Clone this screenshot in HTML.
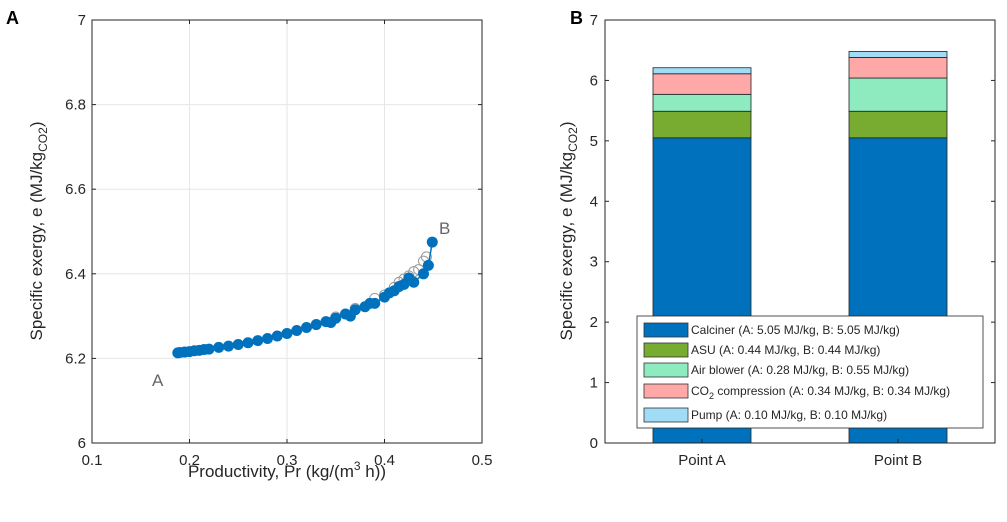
<!DOCTYPE html>
<html><head><meta charset="utf-8"><style>
body{margin:0;background:#fff;font-family:"Liberation Sans",sans-serif}
svg text{font-family:"Liberation Sans",sans-serif}
</style></head><body>
<svg id="s" width="1007" height="517" viewBox="0 0 1007 517" xmlns="http://www.w3.org/2000/svg">
<text x="6" y="24" font-size="18" font-weight="bold">A</text>
<text x="570" y="24" font-size="18" font-weight="bold">B</text>
<g id="left"></g>
<g id="right"></g>
</svg>
<script>
const scatterX=[0.188,0.19,0.195,0.2,0.205,0.21,0.215,0.22,0.23,0.24,0.25,0.26,0.27,0.28,0.29,0.3,0.31,0.32,0.33,0.34,0.345,0.35,0.36,0.365,0.37,0.38,0.385,0.39,0.4,0.405,0.41,0.415,0.42,0.425,0.43,0.44,0.445,0.449];
const scatterY=[6.213,6.214,6.215,6.216,6.218,6.219,6.221,6.222,6.226,6.229,6.233,6.237,6.242,6.247,6.253,6.259,6.266,6.273,6.28,6.287,6.285,6.295,6.305,6.3,6.315,6.322,6.33,6.33,6.345,6.355,6.36,6.37,6.375,6.39,6.38,6.4,6.42,6.475];
const grayX=[0.35,0.37,0.39,0.4,0.41,0.415,0.42,0.425,0.43,0.435,0.44,0.443];
const grayY=[6.298,6.318,6.342,6.35,6.368,6.38,6.388,6.395,6.405,6.41,6.43,6.44];
const xTicks=[0.1,0.2,0.3,0.4,0.5];
const yTicksL=[6,6.2,6.4,6.6,6.8,7];
const categories=["Point A","Point B"];
const components=["Calciner","ASU","Air blower","CO2 compression","Pump"];
const valuesA=[5.05,0.44,0.28,0.34,0.10];
const valuesB=[5.05,0.44,0.55,0.34,0.10];
const yTicksR=[0,1,2,3,4,5,6,7];
const colors=["#0072BD","#77AC30","#8EEBC0","#FFA8A8","#A0DCF5"];
const NS="http://www.w3.org/2000/svg";
function mk(p,t,a,txt){const e=document.createElementNS(NS,t);for(const k in a)e.setAttribute(k,a[k]);if(txt!=null)e.textContent=txt;p.appendChild(e);return e;}
// left
const L=document.getElementById('left');
const x0=92,x1=482,yT=20,yB=443;
const sx=v=>x0+(v-0.1)/0.4*(x1-x0), sy=v=>yB-(v-6)/1*(yB-yT);
mk(L,'rect',{x:x0,y:yT,width:x1-x0,height:yB-yT,fill:'#fff',stroke:'none'});
xTicks.forEach(t=>{const g=mk(L,'line',{x1:sx(t),x2:sx(t),y1:yT,y2:yB,stroke:'#e6e6e6'});
const tx=mk(L,'text',{x:sx(t),y:yB+22,'font-size':15,'text-anchor':'middle',fill:'#262626'},t.toFixed(1));
mk(L,'line',{x1:sx(t),x2:sx(t),y1:yB,y2:yB-4,stroke:'#262626'});mk(L,'line',{x1:sx(t),x2:sx(t),y1:yT,y2:yT+4,stroke:'#262626'});});
yTicksL.forEach(t=>{const g=mk(L,'line',{x1:x0,x2:x1,y1:sy(t),y2:sy(t),stroke:'#e6e6e6'});
const tx=mk(L,'text',{x:x0-6,y:sy(t)+5,'font-size':15,'text-anchor':'end',fill:'#262626'},String(t%1===0?t:t.toFixed(1)));
mk(L,'line',{x1:x0,x2:x0+4,y1:sy(t),y2:sy(t),stroke:'#262626'});mk(L,'line',{x1:x1,x2:x1-4,y1:sy(t),y2:sy(t),stroke:'#262626'});});
mk(L,'rect',{x:x0,y:yT,width:x1-x0,height:yB-yT,fill:'none',stroke:'#262626'});
grayX.forEach((v,i)=>{const c=mk(L,'circle',{cx:sx(v),cy:sy(grayY[i]),r:5,fill:'none',stroke:'#999'});});
let d='';scatterX.forEach((v,i)=>{d+=(i?'L':'M')+sx(v)+' '+sy(scatterY[i]);});
const pl=mk(L,'path',{d:d,fill:'none',stroke:'#0072BD','stroke-width':1.5});
scatterX.forEach((v,i)=>{const c=mk(L,'circle',{cx:sx(v),cy:sy(scatterY[i]),r:5.5,fill:'#0072BD'});});
let t=mk(L,'text',{x:152,y:386,'font-size':17,fill:'#666'},'A');
t=mk(L,'text',{x:439,y:234,'font-size':17,fill:'#666'},'B');
t=mk(L,'text',{x:287,y:477,'font-size':17,'text-anchor':'middle',fill:'#262626'});t.innerHTML='Productivity, Pr (kg/(m<tspan dy="-7" font-size="12">3</tspan><tspan dy="7"> h))</tspan>';
t=mk(L,'text',{x:0,y:0,'font-size':17,'text-anchor':'middle',fill:'#262626',transform:'translate(42,231) rotate(-90)'});t.innerHTML='Specific exergy, e (MJ/kg<tspan dy="5" font-size="12">CO2</tspan><tspan dy="-5">)</tspan>';
// right
const R=document.getElementById('right');
const rx0=605,rx1=995;const ry=v=>yB-v/7*(yB-yT);
const cx=[702,898],bw=98;
yTicksR.forEach(v=>{const tx=mk(R,'text',{x:rx0-7,y:ry(v)+5,'font-size':15,'text-anchor':'end',fill:'#262626'},String(v));
mk(R,'line',{x1:rx0,x2:rx0+4,y1:ry(v),y2:ry(v),stroke:'#262626'});mk(R,'line',{x1:rx1,x2:rx1-4,y1:ry(v),y2:ry(v),stroke:'#262626'});});
[valuesA,valuesB].forEach((vals,ci)=>{let acc=0;vals.forEach((v,k)=>{const r=mk(R,'rect',{x:cx[ci]-bw/2,y:ry(acc+v),width:bw,height:ry(acc)-ry(acc+v),fill:colors[k],stroke:'#222','stroke-width':0.8});acc+=v;});
const tx=mk(R,'text',{x:cx[ci],y:yB+22,'font-size':15,'text-anchor':'middle',fill:'#262626'},categories[ci]);
mk(R,'line',{x1:cx[ci],x2:cx[ci],y1:yB,y2:yB-4,stroke:'#262626'});});
mk(R,'rect',{x:rx0,y:yT,width:rx1-rx0,height:yB-yT,fill:'none',stroke:'#262626'});
t=mk(R,'text',{x:0,y:0,'font-size':17,'text-anchor':'middle',fill:'#262626',transform:'translate(572,231) rotate(-90)'});t.innerHTML='Specific exergy, e (MJ/kg<tspan dy="5" font-size="12">CO2</tspan><tspan dy="-5">)</tspan>';
const lg=mk(R,'g',{});
mk(lg,'rect',{x:637,y:316,width:346,height:112,fill:'#fff',stroke:'#262626','stroke-width':0.8});
const ly=[330,350,370,391,415];
components.forEach((c,k)=>{const e=mk(lg,'rect',{x:644,y:ly[k]-7,width:44,height:14,fill:colors[k],stroke:'#333','stroke-width':0.8});
const tx=mk(lg,'text',{x:691,y:ly[k]+4,'font-size':12,fill:'#262626'});
const rest=' (A: '+valuesA[k].toFixed(2)+' MJ/kg, B: '+valuesB[k].toFixed(2)+' MJ/kg)';
if(c==='CO2 compression'){tx.innerHTML='CO<tspan dy="4" font-size="9">2</tspan><tspan dy="-4"> compression'+rest+'</tspan>';}else tx.textContent=c+rest;
});
</script>
</body></html>
